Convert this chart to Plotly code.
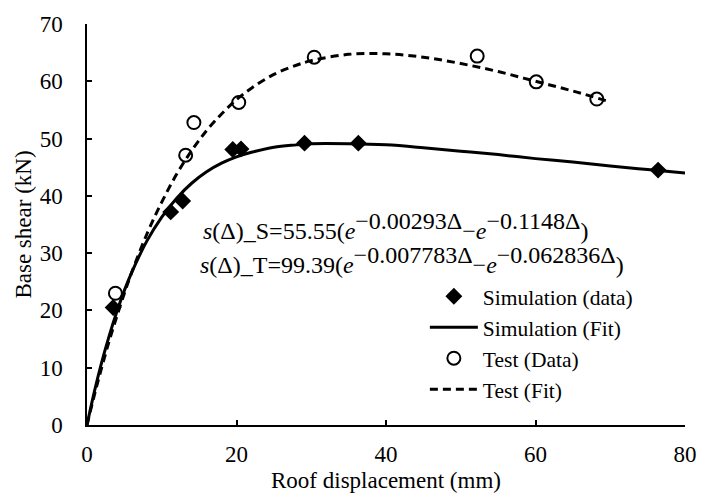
import plotly.graph_objects as go

# Data
sim_x = [3.5, 11.2, 12.8, 19.5, 20.6, 29.1, 36.3, 76.4]
sim_y = [20.5, 37.2, 39.1, 48.1, 48.2, 49.2, 49.2, 44.5]

test_x = [3.8, 13.2, 14.3, 20.3, 30.4, 52.2, 60.1, 68.2]
test_y = [23.0, 47.1, 52.8, 56.3, 64.2, 64.4, 59.9, 56.9]

sim_fit_x = [0, 1, 2, 3, 4, 5, 6, 8, 10, 12, 14, 16, 18, 20, 22, 25, 28, 30, 35, 40, 45, 50, 55, 60, 65, 70, 75, 80]
sim_fit_y = [0, 5.9, 11.1, 15.7, 19.8, 23.5, 26.7, 32.1, 36.3, 39.6, 42.2, 44.2, 45.7, 46.8, 47.6, 48.5, 48.9, 49.1,
             49.1, 48.9, 48.4, 47.8, 47.2, 46.5, 45.9, 45.2, 44.6, 44.0]

test_fit_x = [0, 1, 2, 3, 4, 5, 6, 8, 10, 12, 14, 16, 18, 20, 22, 25, 28, 30, 35, 40, 45, 50, 55, 60, 65, 70]
test_fit_y = [0, 5.3, 10.2, 14.8, 19.0, 23.0, 26.7, 33.3, 38.9, 43.8, 47.9, 51.4, 54.3, 56.8, 58.8, 61.2, 62.8, 63.6,
              64.7, 64.8, 64.2, 63.1, 61.7, 60.0, 58.3, 56.4]

x_ticks = [0, 20, 40, 60, 80]
y_ticks = [0, 10, 20, 30, 40, 50, 60, 70]

FONT = "Liberation Serif"
FS = 23
EQ_FS = 24

fig = go.Figure()
fig.add_trace(go.Scatter(x=sim_x, y=sim_y, mode="markers", name="Simulation (data)",
                         marker=dict(symbol="diamond", size=13, color="black")))
fig.add_trace(go.Scatter(x=sim_fit_x, y=sim_fit_y, mode="lines", name="Simulation (Fit)",
                         line=dict(color="black", width=3, shape="spline")))
fig.add_trace(go.Scatter(x=test_x, y=test_y, mode="markers", name="Test (Data)",
                         marker=dict(symbol="circle-open", size=13, color="black", line=dict(width=2, color="black"))))
fig.add_trace(go.Scatter(x=test_fit_x, y=test_fit_y, mode="lines", name="Test (Fit)",
                         line=dict(color="black", width=3, dash="8px,5px", shape="spline")))

sup = "<sup><span style='font-size:%dpx'>%s</span></sup>"
eq1 = ("<i>s</i>(Δ)_S=55.55(<i>e</i>" + sup % (EQ_FS, "−0.00293Δ") + "−<i>e</i>" + sup % (EQ_FS, "−0.1148Δ") + ")")
eq2 = ("<i>s</i>(Δ)_T=99.39(<i>e</i>" + sup % (EQ_FS, "−0.007783Δ") + "−<i>e</i>" + sup % (EQ_FS, "−0.062836Δ") + ")")

fig.add_annotation(text=eq1, xref="paper", yref="paper", x=0.1905, y=0.497, xanchor="left", yanchor="middle",
                   showarrow=False, font=dict(family=FONT, size=EQ_FS, color="black"))
fig.add_annotation(text=eq2, xref="paper", yref="paper", x=0.1856, y=0.412, xanchor="left", yanchor="middle",
                   showarrow=False, font=dict(family=FONT, size=EQ_FS, color="black"))

fig.update_layout(
    width=709, height=501,
    margin=dict(l=87, r=13, t=19, b=74),
    paper_bgcolor="white", plot_bgcolor="white",
    font=dict(family=FONT, size=FS, color="black"),
    showlegend=True,
    legend=dict(x=0.565, y=0.372, xanchor="left", yanchor="top", bgcolor="rgba(0,0,0,0)",
                font=dict(family=FONT, size=21.5, color="black"), itemwidth=48, tracegroupgap=0),
)
fig.update_xaxes(range=[0, 80], tickvals=x_ticks, ticks="inside", ticklen=5, tickwidth=1.5, tickcolor="black",
                 showline=True, linecolor="black", linewidth=1.5, showgrid=False, zeroline=False,
                 title=dict(text="Roof displacement (mm)", font=dict(family=FONT, size=FS), standoff=6),
                 ticklabelstandoff=8)
fig.update_yaxes(range=[0, 70], tickvals=y_ticks, ticks="inside", ticklen=5, tickwidth=1.5, tickcolor="black",
                 showline=True, linecolor="black", linewidth=1.5, showgrid=False, zeroline=False,
                 title=dict(text="Base shear (kN)", font=dict(family=FONT, size=FS), standoff=2),
                 ticklabelstandoff=18)

fig.write_html("out.html")
